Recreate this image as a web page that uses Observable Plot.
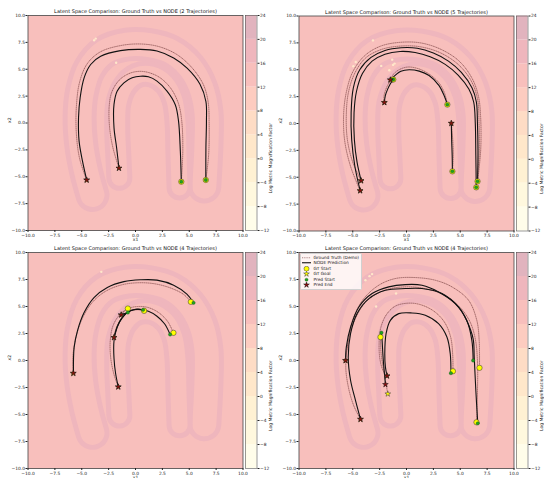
<!DOCTYPE html>
<html><head><meta charset="utf-8">
<script src="https://cdn.jsdelivr.net/npm/d3@7"></script>
<script src="https://cdn.jsdelivr.net/npm/@observablehq/plot@0.6"></script>
<style>
body{margin:0;background:#fff;}
#root{position:relative;width:544px;height:478px;overflow:hidden;font-family:"DejaVu Sans",sans-serif;}
.pp{position:absolute;}
.pp svg{overflow:visible;max-width:none !important;}
.legend{position:absolute;background:rgba(255,255,255,0.82);border:0.5px solid #d0d0d0;border-radius:1.5px;padding:1px 2px 1px 1.5px;font-size:4.3px;line-height:5.5px;color:#222;}
.legend div{display:flex;align-items:center;height:5.5px;white-space:nowrap;}
.legend svg{width:9px;height:5.5px;margin-right:2.5px;flex:none;}
</style></head><body><div id="root"></div>
<script>
// ---------------- data ----------------
const axisTicks = [-10, -7.5, -5, -2.5, 0, 2.5, 5, 7.5, 10];
const cbLevels = [-12, -8, -4, 0, 4, 8, 12, 16, 20, 24];
const titles = [
  "Latent Space Comparison: Ground Truth vs NODE (2 Trajectories)",
  "Latent Space Comparison: Ground Truth vs NODE (5 Trajectories)",
  "Latent Space Comparison: Ground Truth vs NODE (4 Trajectories)",
  "Latent Space Comparison: Ground Truth vs NODE (4 Trajectories)"
];
const legendLabels = ["Ground Truth (Demo)", "NODE Prediction", "GT Start", "GT Goal", "Pred Start", "Pred End"];

// background metric field: two U-shaped ridge tubes (centre lines)
const outerTube = [[-4.0,-6.7],[-4.6,-4.5],[-5.05,-2.0],[-5.2,0.5],[-5.0,2.8],[-4.3,5.0],[-2.9,6.6],[-0.8,7.3],[1.3,7.25],[3.3,6.65],[5.0,5.25],[6.1,3.3],[6.6,1.0],[6.6,-2.0],[6.4,-5.9]];
const innerTube = [[-1.5,-5.1],[-1.6,-3.0],[-1.7,-0.5],[-1.6,1.8],[-1.0,3.4],[0.1,4.4],[1.5,4.5],[2.8,3.7],[3.6,2.2],[3.9,0.2],[4.0,-3.0],[4.1,-6.0]];

// low-metric spots
const spots1 = [[-3.85,7.7],[-3.7,7.85],[-1.8,5.6]];
const spots2 = [[-3.12,7.73],[-4.72,5.72],[-4.94,5.32],[-2.35,5.36],[-1.33,5.94],[-1.11,5.57],[-1.25,5.45],[-1.6,4.95]];
const spots3 = [[-3.18,8.21]];
const spots4 = [[-3.82,7.43],[-3.44,7.81],[-3.2,8.0],[-0.97,6.2],[-2.83,5.0]];

// panel 1 (2 trajectories)
const pred1 = [
  [[6.54,-5.3],[6.55,-2.3],[6.6,0.2],[6.55,2.0],[6.0,3.6],[4.8,5.1],[3.55,6.05],[2.0,6.7],[0.46,6.85],[-1.4,6.73],[-3.24,6.2],[-4.17,5.44],[-4.78,4.2],[-5.15,2.35],[-5.3,0.5],[-5.25,-1.66],[-4.94,-3.5],[-4.54,-5.3]],
  [[4.26,-5.46],[4.17,-2.6],[4.0,0.2],[3.7,1.7],[2.93,2.97],[2.0,3.9],[1.2,4.3],[0.46,4.35],[-0.31,4.2],[-1.08,3.74],[-1.7,2.97],[-2.0,1.73],[-2.0,-0.43],[-1.76,-2.28],[-1.54,-4.2]]
];
const gt1 = [
  [[6.54,-5.3],[6.8,-3.0],[6.85,0.0],[6.75,2.0],[6.3,3.6],[5.2,5.2],[3.8,6.4],[2.2,7.1],[0.5,7.35],[-1.4,7.2],[-3.3,6.6],[-4.5,5.5],[-5.2,3.8],[-5.5,1.5],[-5.5,-1.0],[-5.2,-3.3],[-4.55,-5.3]],
  [[4.26,-5.46],[4.4,-2.6],[4.3,0.2],[4.0,1.8],[3.3,3.2],[2.3,4.2],[1.2,4.7],[0.3,4.8],[-0.6,4.6],[-1.5,4.0],[-2.2,2.9],[-2.45,1.5],[-2.4,-0.5],[-2.1,-2.3],[-1.54,-4.2]]
];

// panel 2 (5 trajectories)
const pred2 = [
  [[6.61,-5.38],[6.65,-2.5],[6.6,0.0],[6.5,2.0],[6.1,3.3],[5.1,4.75],[3.9,5.8],[2.5,6.55],[1.0,7.0],[-0.5,7.05],[-2.0,6.8],[-3.3,6.15],[-4.35,5.0],[-4.95,3.3],[-5.15,1.0],[-5.1,-1.5],[-4.8,-4.0],[-4.31,-6.25]],
  [[6.49,-5.94],[6.45,-3.0],[6.4,0.0],[6.25,2.0],[5.8,3.2],[4.8,4.5],[3.6,5.5],[2.2,6.2],[0.8,6.6],[-0.6,6.7],[-2.0,6.45],[-3.2,5.8],[-4.1,4.65],[-4.65,3.0],[-4.88,1.0],[-4.85,-1.5],[-4.6,-3.6],[-4.22,-5.32]],
  [[3.8,1.76],[3.5,2.6],[3.03,3.53],[2.1,4.46],[1.18,4.87],[0.25,5.0],[-0.52,4.87],[-0.98,4.55],[-1.5,4.06]],
  [[-1.23,4.09],[-1.5,3.7],[-1.75,3.2],[-1.97,2.6],[-2.06,1.95]],
  [[4.27,-4.45],[4.25,-3.0],[4.2,-1.5],[4.17,0.02]]
];
const gt2 = [
  [[6.61,-5.38],[6.9,-2.5],[6.9,0.5],[6.7,2.5],[6.1,4.2],[4.9,5.8],[3.2,6.9],[1.3,7.5],[-0.6,7.55],[-2.4,7.2],[-3.9,6.3],[-5.0,4.8],[-5.6,2.9],[-5.85,0.8],[-5.75,-1.6],[-5.2,-4.0],[-4.31,-6.25]],
  [[6.49,-5.94],[6.75,-3.0],[6.75,0.0],[6.6,2.3],[6.0,4.0],[4.8,5.5],[3.1,6.6],[1.2,7.15],[-0.6,7.2],[-2.3,6.9],[-3.8,6.1],[-4.8,4.7],[-5.4,2.9],[-5.6,0.8],[-5.5,-1.5],[-5.0,-3.6],[-4.22,-5.32]],
  [[3.8,1.76],[3.55,2.8],[3.0,3.8],[2.1,4.6],[1.1,5.1],[0.1,5.25],[-0.7,5.0],[-1.2,4.6],[-1.5,4.06]],
  [[-1.23,4.09],[-1.6,3.8],[-1.95,3.1],[-2.1,2.5],[-2.06,1.95]],
  [[4.27,-4.45],[4.35,-3.0],[4.3,-1.5],[4.17,0.02]]
];

// panel 3 (4 trajectories)
const pred3 = [
  [[5.4,5.34],[4.78,6.14],[3.55,6.97],[2.0,7.44],[0.46,7.47],[-1.08,7.3],[-2.62,6.76],[-3.86,5.83],[-4.78,4.44],[-5.4,2.75],[-5.71,1.2],[-5.77,-1.17]],
  [[3.22,2.41],[2.7,3.4],[2.0,4.1],[1.2,4.55],[0.3,4.75],[-0.5,4.6],[-1.2,4.0],[-1.7,3.1],[-2.0,1.8],[-2.0,0.2],[-1.85,-1.2],[-1.6,-2.44]],
  [[0.71,4.69],[0.0,4.75],[-0.7,4.5],[-1.3,3.9],[-1.75,3.0],[-2.0,2.13]],
  [[-0.71,4.44],[-1.0,4.35],[-1.33,4.23]]
];
const gt3 = [
  [[5.15,5.43],[4.5,6.1],[3.3,6.7],[1.8,7.1],[0.3,7.2],[-1.3,7.0],[-2.8,6.4],[-4.0,5.4],[-4.9,4.0],[-5.5,2.3],[-5.8,0.6],[-5.8,-1.2]],
  [[3.53,2.56],[3.0,3.6],[2.2,4.4],[1.2,4.9],[0.2,5.0],[-0.7,4.8],[-1.5,4.2],[-2.1,3.2],[-2.35,1.8],[-2.3,0.2],[-2.0,-1.3],[-1.6,-2.44]],
  [[0.8,4.6],[0.1,4.7],[-0.6,4.5],[-1.3,3.9],[-1.8,3.0],[-2.0,2.13]],
  [[-0.71,4.81],[-1.0,4.6],[-1.33,4.23]]
];

// panel 4 (4 trajectories)
const pred4 = [
  [[6.2,0.0],[6.08,1.86],[5.6,3.72],[4.53,5.27],[2.98,6.35],[1.44,6.97],[-0.11,7.03],[-1.65,6.82],[-3.2,6.2],[-4.43,4.96],[-5.2,3.1],[-5.6,1.24],[-5.67,0.0]],
  [[6.63,-5.82],[6.45,-2.78],[6.3,0.3],[6.2,2.0],[5.6,3.7],[4.84,4.96],[3.3,6.2],[1.44,6.66],[-0.1,6.66],[-1.96,6.5],[-3.5,5.73],[-4.6,4.34],[-5.2,2.5],[-5.42,0.31],[-5.2,-1.85],[-4.74,-3.71],[-4.28,-5.44]],
  [[4.13,-1.17],[4.07,0.62],[3.76,2.17],[2.98,3.41],[1.75,4.19],[0.51,4.4],[-0.72,4.34],[-1.5,3.72],[-1.9,2.48],[-2.02,0.62],[-1.96,-0.61],[-1.81,-1.42]],
  [[-2.33,2.57],[-2.27,1.86],[-2.18,0.31],[-2.05,-1.23],[-1.96,-2.22]]
];
const gt4 = [
  [[6.79,-0.68],[6.76,1.86],[6.54,3.72],[5.77,5.58],[4.22,6.82],[2.68,7.43],[0.82,7.68],[-1.03,7.59],[-2.58,6.97],[-3.97,5.73],[-4.9,4.03],[-5.42,1.86],[-5.67,0.0]],
  [[6.51,-5.72],[6.6,-3.0],[6.6,0.0],[6.4,2.0],[5.9,3.6],[4.9,5.0],[3.4,6.1],[1.5,6.7],[-0.5,6.8],[-2.3,6.4],[-3.8,5.4],[-4.8,3.8],[-5.4,1.8],[-5.65,-0.5],[-5.4,-2.5],[-4.9,-4.2],[-4.28,-5.44]],
  [[4.32,-0.99],[4.3,0.5],[4.1,2.2],[3.5,3.6],[2.5,4.6],[1.2,5.2],[0.0,5.3],[-1.1,5.0],[-1.9,4.2],[-2.4,3.0],[-2.55,1.5],[-2.45,0.0],[-2.15,-1.0],[-1.81,-1.42]],
  [[-2.42,2.17],[-2.35,0.5],[-2.1,-1.0],[-1.9,-2.2],[-1.74,-3.09]]
];

// ---------------- drawing ----------------
const nBands = cbLevels.length - 1;
const bandColor = i => d3.interpolateRgb("#ffffff", d3.interpolateYlOrRd((i + 0.5) / nBands))(0.3);
const bgColor = bandColor(cbLevels.indexOf(12));
const tubeColor = bandColor(cbLevels.indexOf(16));
const spotColor = bandColor(cbLevels.indexOf(0));
const cbData = d3.range(nBands).map(i => ({lo: cbLevels[i], hi: cbLevels[i + 1], color: bandColor(i)}));
const fmt = d => d3.format(".1f")(d).replace("-", "\u2212");
const fmtCb = d => String(d).replace("-", "\u2212");
const X = d => d[0], Y = d => d[1];
const GT_COLOR = "#7b4444";
const baseStyle = {fontFamily: "DejaVu Sans, sans-serif", fontSize: "4.4px", background: "transparent", overflow: "visible", color: "#222", maxWidth: "none"};

const root = document.getElementById("root");

function place(el, left, top, w) {
  const d = document.createElement("div");
  d.className = "pp"; d.style.left = left + "px"; d.style.top = top + "px"; d.style.width = w + "px";
  d.appendChild(el); root.appendChild(d);
}

function panel(k, left, top, height, mt, mb, preds, gts, spots) {
  const W = 272, ml = 27.5, mr = 29.5;
  const tubeLine = (pts, w, c) => Plot.line(pts, {x: X, y: Y, stroke: c, strokeWidth: w, curve: "catmull-rom", strokeLinecap: "round", strokeLinejoin: "round"});
  const chart = Plot.plot({
    width: W, height, marginLeft: ml, marginRight: mr, marginTop: mt, marginBottom: mb,
    style: baseStyle,
    x: {domain: [-10, 10], axis: null},
    y: {domain: [-10, 10], axis: null},
    marks: [
      Plot.frame({fill: bgColor}),
      tubeLine(outerTube, 34, tubeColor),
      tubeLine(outerTube, 24, bgColor),
      tubeLine(innerTube, 26, tubeColor),
      tubeLine(innerTube, 16, bgColor),
      Plot.dot(spots, {x: X, y: Y, r: 1.2, fill: spotColor}),
      ...gts.map(g => Plot.line(g, {x: X, y: Y, stroke: GT_COLOR, strokeWidth: 0.7, strokeDasharray: "0.7,1.2", curve: "catmull-rom"})),
      ...preds.map(p => Plot.line(p, {x: X, y: Y, stroke: "#111", strokeWidth: 1.1, curve: "catmull-rom"})),
      Plot.dot(gts.map(g => g[0]), {x: X, y: Y, r: 2.7, fill: "#ffff00", stroke: "#333", strokeWidth: 0.5}),
      Plot.dot(gts.map(g => g[g.length - 1]), {x: X, y: Y, symbol: "star", r: 1.8, fill: "#ffff00", stroke: "#333", strokeWidth: 0.5}),
      Plot.dot(preds.map(p => p[0]), {x: X, y: Y, r: 1.7, fill: "#22a022", stroke: "#0b3d0b", strokeWidth: 0.3}),
      Plot.dot(preds.map(p => p[p.length - 1]), {x: X, y: Y, symbol: "star", r: 1.8, fill: "#8b1010", stroke: "#111", strokeWidth: 0.5}),
      Plot.frame({stroke: "#444", strokeWidth: 0.8}),
      Plot.axisX({ticks: axisTicks, tickFormat: fmt, tickSize: 2, tickPadding: 1, label: null}),
      Plot.axisY({ticks: axisTicks, tickFormat: fmt, tickSize: 2, tickPadding: 1, label: null}),
      Plot.text([titles[k]], {text: d => d, frameAnchor: "top", dy: -2.5, lineAnchor: "bottom", fontSize: 5, fill: "#111"}),
      Plot.text(["x1"], {text: d => d, frameAnchor: "bottom", dy: 10, fontSize: 4.5}),
      Plot.text(["x2"], {text: d => d, frameAnchor: "left", dx: -18, rotate: -90, fontSize: 4.5})
    ]
  });
  place(chart, left, top, W);

  const cbW = 11.5, cbTotal = 40;
  const cb = Plot.plot({
    width: cbTotal, height, marginLeft: 0, marginRight: cbTotal - cbW, marginTop: mt, marginBottom: mb,
    style: baseStyle,
    x: {domain: [0, 1], axis: null},
    y: {domain: [cbLevels[0], cbLevels[cbLevels.length - 1]], axis: null},
    marks: [
      Plot.rect(cbData, {x1: 0, x2: 1, y1: "lo", y2: "hi", fill: "color"}),
      Plot.frame({stroke: "#555", strokeWidth: 0.6}),
      Plot.axisY({anchor: "right", ticks: cbLevels, tickFormat: fmtCb, tickSize: 2, tickPadding: 1, label: null}),
      Plot.text(["Log Metric Magnification Factor"], {text: d => d, frameAnchor: "right", dx: 13.5, rotate: -90, fontSize: 4.5})
    ]
  });
  place(cb, left + 245, top, cbTotal);
}

panel(0, 0, 0, 240, 15, 10, pred1, gt1, spots1);
panel(1, 271, 0, 240, 15.5, 9.5, pred2, gt2, spots2);
panel(2, 0, 240, 238, 12, 10, pred3, gt3, spots3);
panel(3, 271, 240, 238, 12, 10, pred4, gt4, spots4);

// legend (panel 4)
const swatches = [
  `<line x1="0" y1="2.75" x2="9" y2="2.75" stroke="${GT_COLOR}" stroke-width="0.7" stroke-dasharray="0.9,0.9"/>`,
  `<line x1="0" y1="2.75" x2="9" y2="2.75" stroke="#111" stroke-width="1.1"/>`,
  `<circle cx="4.5" cy="2.75" r="2.5" fill="#ffff00" stroke="#333" stroke-width="0.5"/>`,
  `<path transform="translate(4.5,2.9)" d="${d3.symbol(d3.symbolStar, 10)()}" fill="#ffff00" stroke="#333" stroke-width="0.5"/>`,
  `<circle cx="4.5" cy="2.75" r="1.6" fill="#22a022" stroke="#0b3d0b" stroke-width="0.3"/>`,
  `<path transform="translate(4.5,2.9)" d="${d3.symbol(d3.symbolStar, 10)()}" fill="#8b1010" stroke="#111" stroke-width="0.5"/>`
];
const lg = document.createElement("div");
lg.className = "legend";
lg.style.left = (271 + 28.5) + "px"; lg.style.top = (240 + 12.8) + "px";
lg.innerHTML = legendLabels.map((t, i) => `<div><svg viewBox="0 0 9 5.5">${swatches[i]}</svg><span>${t}</span></div>`).join("");
root.appendChild(lg);
</script></body></html>
